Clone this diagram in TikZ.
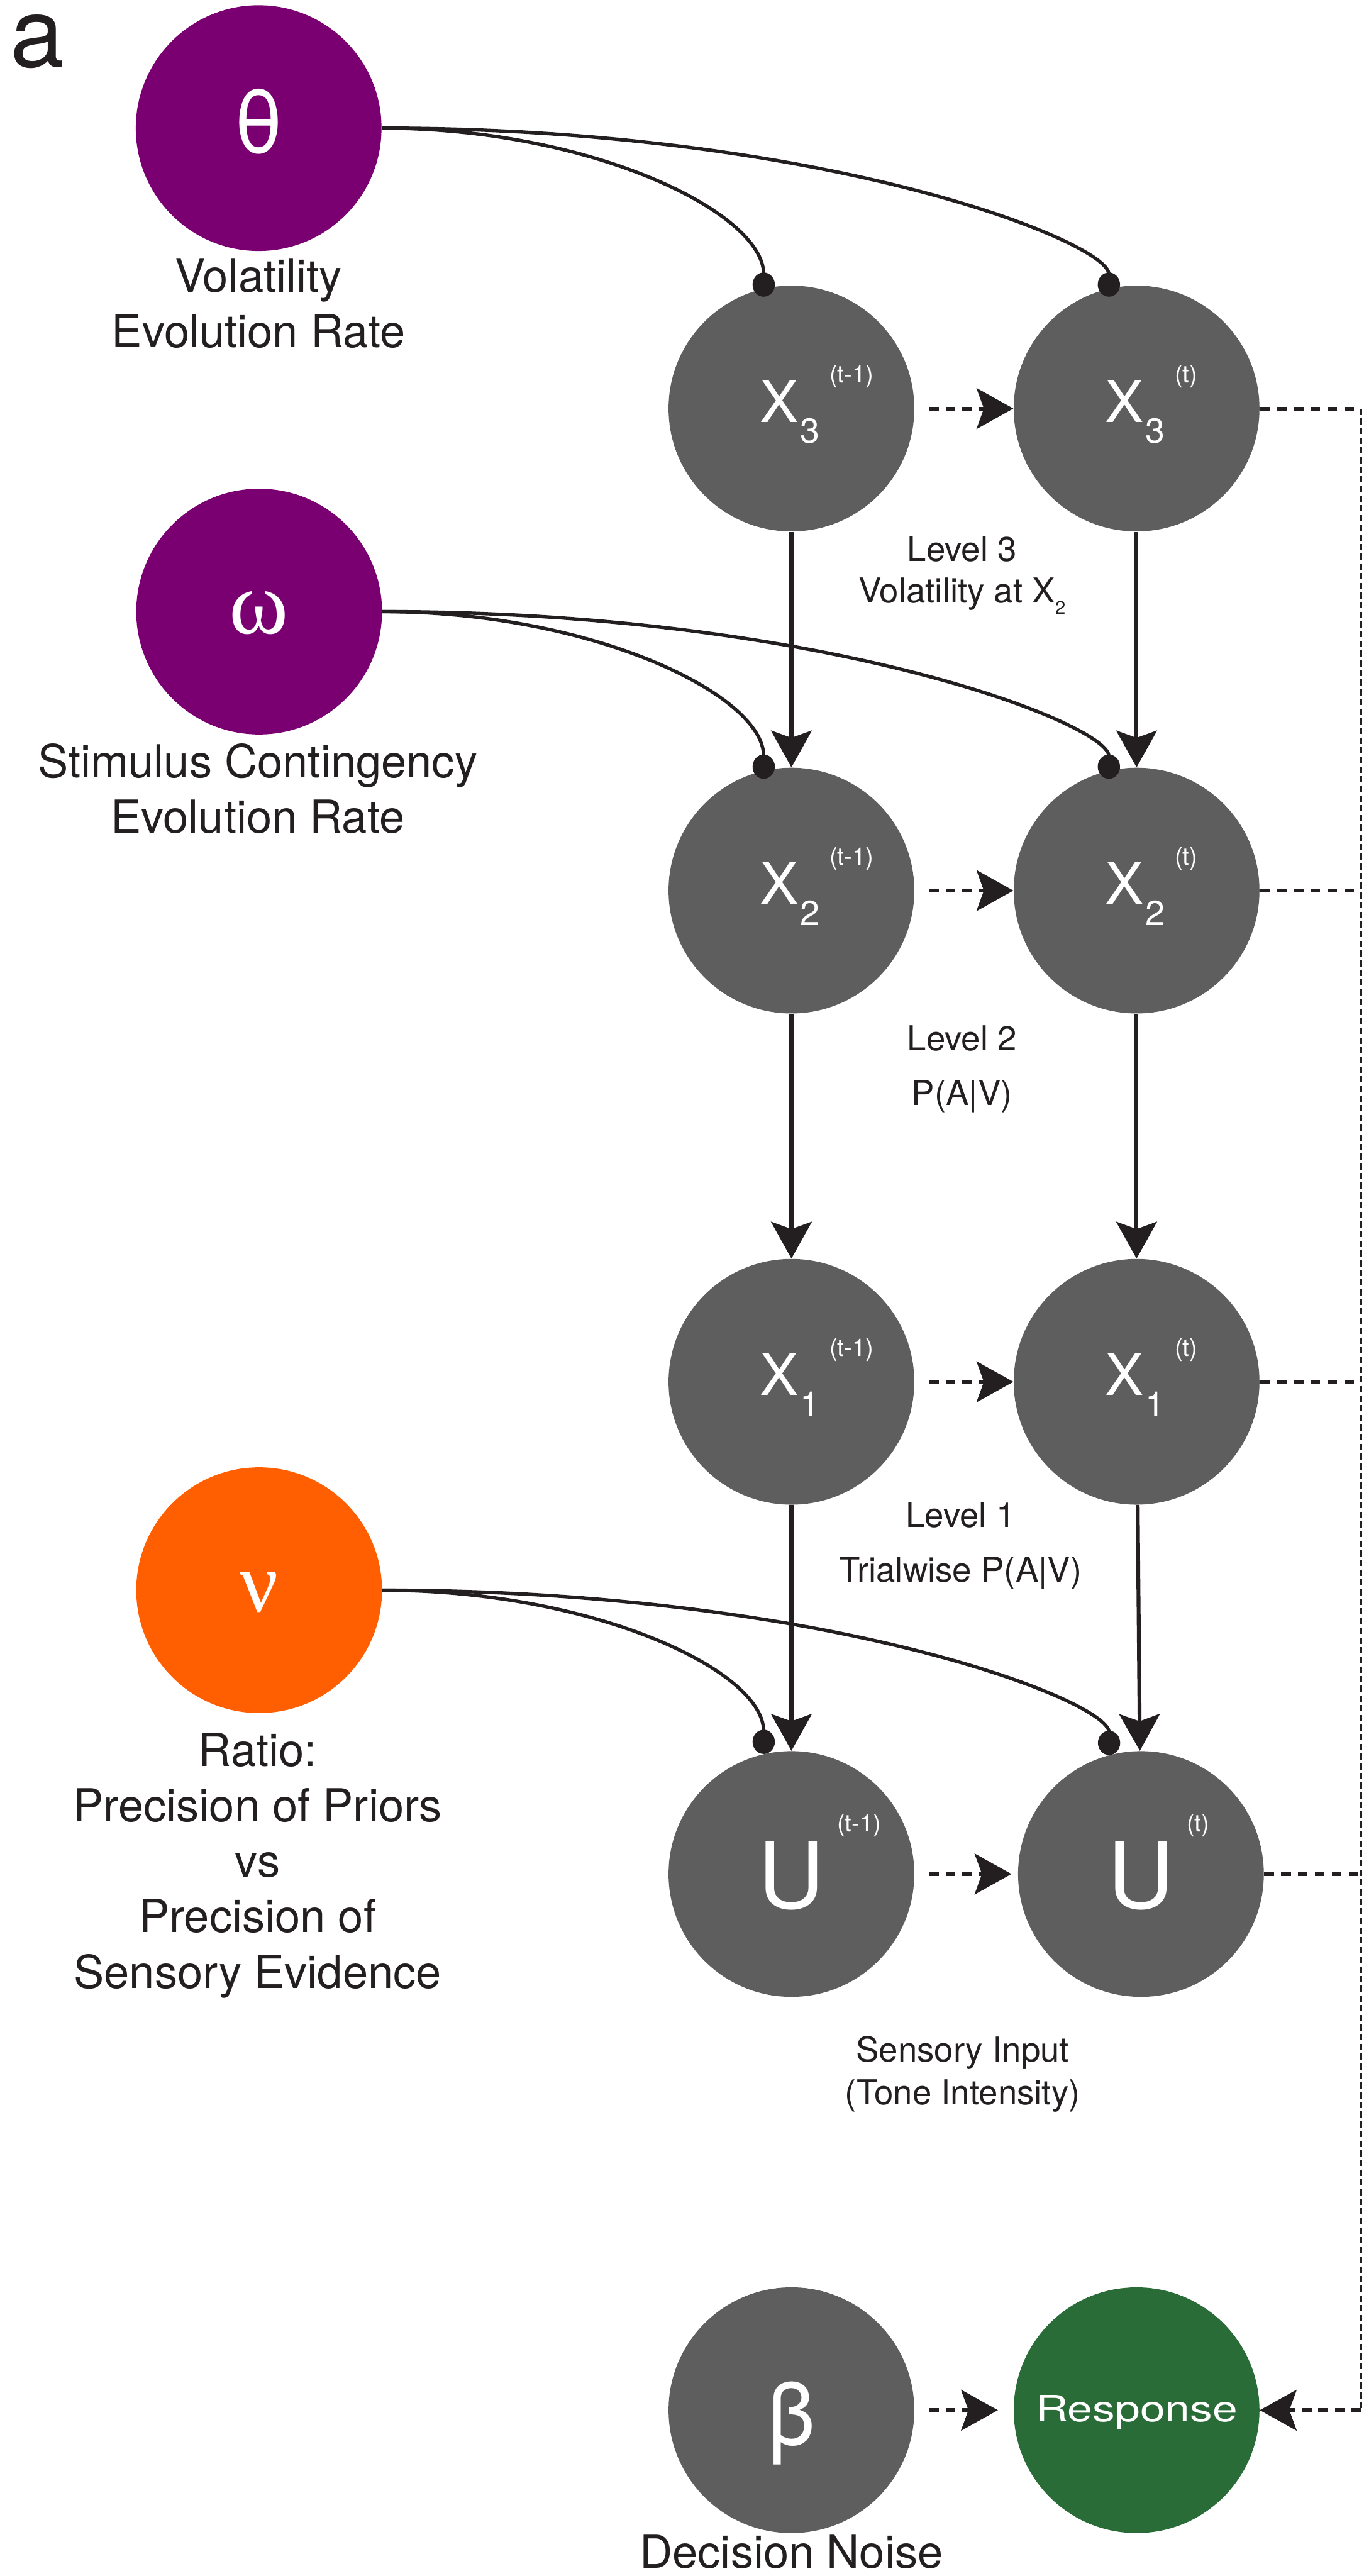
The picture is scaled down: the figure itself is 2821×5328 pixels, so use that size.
\documentclass[tikz,border=0pt]{standalone}
\usepackage{fontspec}
\usepackage{graphicx}
\setmainfont{TeX Gyre Heros}
\newfontfamily\serifgreek{Liberation Serif}
\usetikzlibrary{arrows.meta}

\definecolor{nodegray}{HTML}{5E5E5E}
\definecolor{ratepurple}{HTML}{7A0072}
\definecolor{ratioorange}{HTML}{FF5F00}
\definecolor{respgreen}{HTML}{2A6C37}
\definecolor{inkblack}{HTML}{231F20}

\newcommand{\xstate}[2]{\hspace*{-0.5cm}X\rlap{\kern0.04cm\raisebox{-0.44cm}{\fontsize{20.5}{20.5}\selectfont #1}\kern0.2cm\raisebox{0.81cm}{\fontsize{14.2}{14.2}\selectfont (#2)}}}
\newcommand{\ustate}[1]{U\rlap{\kern0.26cm\raisebox{1.58cm}{\fontsize{14.2}{14.2}\selectfont (#1)}}}

\begin{document}
\begin{tikzpicture}[x = 0.01cm, y = -0.01cm,
		ball/.style = {circle, minimum size = 5.08cm, inner sep = 0, text = white},
		state/.style = {ball, fill = nodegray, font = \fontsize{34}{34}\selectfont, text height = 0.56cm, text depth = 0cm},
		input/.style = {ball, fill = nodegray, font = \fontsize{54}{54}\selectfont, text height = 1.42cm, text depth = 0cm},
		rate/.style = {ball, fill = ratepurple},
		paramtext/.style = {anchor = north, inner sep = 0, align = center, text = inkblack, font = \fontsize{26.75}{32.6}\selectfont},
		leveltext/.style = {anchor = north, inner sep = 0, align = center, text = inkblack},
		flow/.style = {line width = 0.08cm, draw = inkblack, -{Stealth[length = 0.76cm, width = 0.84cm, inset = 0.15cm]}},
		trans/.style = {flow, dash pattern = on 0.2cm off 0.14cm},
		modul/.style = {line width = 0.07cm, draw = inkblack, -{Circle[length = 0.5cm, width = 0.46cm]}},
		feed/.style = {line width = 0.08cm, draw = inkblack, dash pattern = on 0.2cm off 0.15cm},
		feedv/.style = {line width = 0.06cm, draw = inkblack, dash pattern = on 0.13cm off 0.07cm}]
		\useasboundingbox (0,0) rectangle (2821,5328);
		\node [anchor = base west, inner sep = 0, text = inkblack, font = \fontsize{57}{57}\selectfont] (panel) at (21,139) {a};

		\node [rate, font = \fontsize{51}{51}\selectfont, text height = 1.04cm, text depth = 0cm] (theta) at (535,265) {θ};
		\node [rate, font = \serifgreek\fontsize{53}{53}\selectfont, text height = 0.9cm, text depth = 0cm] (omega) at (536,1265) {ω};
		\node [ball, fill = ratioorange, font = \serifgreek\fontsize{50}{50}\selectfont, text height = 0.88cm, text depth = 0cm] (nu) at (536,3289) {ν};
		\node [paramtext] (thetatext) at (535,535) {Volatility\\Evolution Rate};
		\node [paramtext] (omegatext) at (533,1537) {Stimulus Contingency\\Evolution Rate};
		\node [paramtext] (nutext) at (533,3584) {Ratio:\\Precision of Priors\\vs\\Precision of\\Sensory Evidence};

		\node [state] (x3a) at (1637,845) {\xstate{3}{t-1}};
		\node [state] (x3b) at (2351,845) {\xstate{3}{t}};
		\node [state] (x2a) at (1637,1842) {\xstate{2}{t-1}};
		\node [state] (x2b) at (2351,1842) {\xstate{2}{t}};
		\node [state] (x1a) at (1637,2858) {\xstate{1}{t-1}};
		\node [state] (x1b) at (2351,2858) {\xstate{1}{t}};
		\node [input] (ua) at (1637,3876) {\ustate{t-1}};
		\node [input] (ub) at (2360,3876) {\ustate{t}};
		\node [ball, fill = nodegray, font = \fontsize{51}{51}\selectfont, text height = 1.44cm, text depth = 0cm] (beta) at (1637,4985) {β};
		\node [ball, fill = respgreen, font = \fontsize{21.3}{21.3}\selectfont, text height = 0.48cm, text depth = 0cm] (resp) at (2351,4985) {\scalebox{1.24}[1]{Response}};
		\node [paramtext] (betatext) at (1637,5242) {Decision Noise};

		\node [leveltext, font = \fontsize{20.2}{24.5}\selectfont] (lev3) at (1990,1108) {Level 3\\Volatility at X\raisebox{-0.23cm}{\fontsize{10.8}{10.8}\selectfont 2}};
		\node [leveltext, font = \fontsize{20.2}{32.4}\selectfont] (lev2) at (1990,2120) {Level 2\\P(A|V)};
		\node [leveltext, font = \fontsize{20.2}{32.4}\selectfont] (lev1) at (1987,3106) {Level 1\\Trialwise P(A|V)};
		\node [leveltext, font = \fontsize{20.2}{25}\selectfont] (sens) at (1991,4211) {Sensory Input\\(Tone Intensity)};

		\draw [flow] (x3a) -- (x2a);
		\draw [flow] (x2a) -- (x1a);
		\draw [flow] (x1a) -- (ua);
		\draw [flow] (x3b) -- (x2b);
		\draw [flow] (x2b) -- (x1b);
		\draw [flow] (x1b) -- (ub);

		\draw [trans, shorten <= 0.3cm] (x3a) -- (x3b);
		\draw [trans, shorten <= 0.3cm] (x2a) -- (x2b);
		\draw [trans, shorten <= 0.3cm] (x1a) -- (x1b);
		\draw [trans, shorten <= 0.3cm, shorten >= 0.13cm] (ua) -- (ub);
		\draw [trans, shorten <= 0.3cm, shorten >= 0.32cm] (beta) -- (resp);

		\coordinate (fb3) at (2815,845);
		\coordinate (fb2) at (2815,1842);
		\coordinate (fb1) at (2815,2858);
		\coordinate (fbu) at (2815,3876);
		\coordinate (fbr) at (2815,4985);
		\draw [feed] (x3b) -- (fb3);
		\draw [feed] (x2b) -- (fb2);
		\draw [feed] (x1b) -- (fb1);
		\draw [feed] (ub) -- (fbu);
		\draw [feedv] (fb3) -- (fbr);
		\draw [trans] (fbr) -- (resp);

		\draw [modul] (theta.east) .. controls +(433,0) and +(0,-174) .. ([yshift = -0.17cm]x3a.103);
		\draw [modul] (theta.east) .. controls +(911,0) and +(0,-114) .. ([yshift = -0.17cm]x3b.103);
		\draw [modul] (omega.east) .. controls +(433,0) and +(0,-174) .. ([yshift = -0.17cm]x2a.103);
		\draw [modul] (omega.east) .. controls +(911,0) and +(0,-114) .. ([yshift = -0.17cm]x2b.103);
		\draw [modul] (nu.east) .. controls +(433,0) and +(0,-174) .. (ua.103);
		\draw [modul] (nu.east) .. controls +(911,0) and +(0,-114) .. (ub.105);
	\end{tikzpicture}
\end{document}
